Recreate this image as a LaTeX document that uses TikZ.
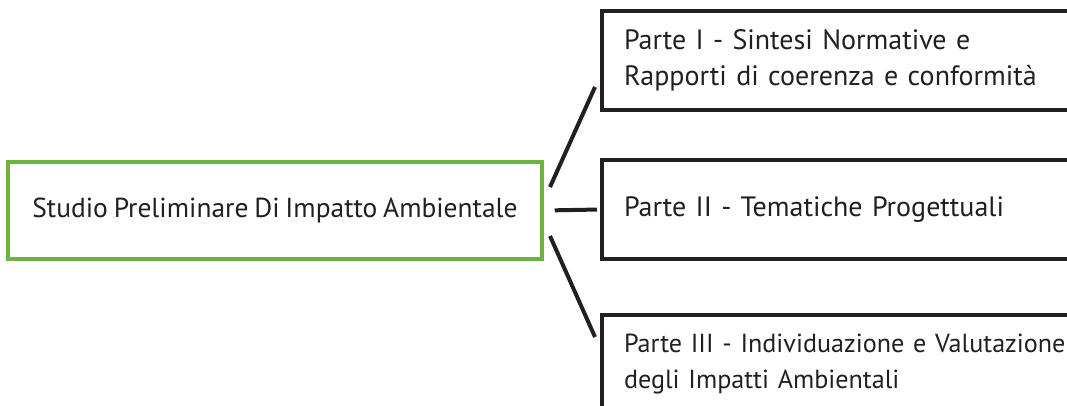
\documentclass[tikz,border=0pt]{standalone}
\usepackage{fontspec}
\setmainfont{PT Sans}[WordSpace=0.8]
\usetikzlibrary{calc,positioning}
\usepackage{xcolor}
\definecolor{boxgreen}{HTML}{6DB33F}
\definecolor{ink}{HTML}{231F20}

\tikzset{
    mainbox/.style={draw=boxgreen, line width=2.6pt, minimum width=534*0.75pt, minimum height=97*0.75pt, inner sep=0pt, text=ink, font=\fontsize{20.6}{27}\selectfont},
    partbox/.style={draw=ink, line width=3pt, minimum height=99*0.75pt, text width=520*0.75pt, inner xsep=22*0.75pt, align=left, anchor=west, text=ink},
    link/.style={draw=ink, line width=3pt}
}

\begin{document}
\begin{tikzpicture}[x=0.75pt, y=-0.75pt, font=\fontsize{21}{27}\selectfont]
    \useasboundingbox (0,0) rectangle (1067,405);
    \clip (0,0) rectangle (1067,405);

    % Main study box
    \node[mainbox] (main) at (275,210.5) {Studio Preliminare Di Impatto Ambientale};

    % The three parts
    \node[partbox] (p1) at (600,60.5) {Parte I - Sintesi Normative e\\Rapporti di coerenza e conformità};
    \node[partbox] (p2) at (600,209.5) {Parte II - Tematiche Progettuali};
    \node[partbox, font=\fontsize{19.6}{27}\selectfont] (p3) at (600,364) {Parte III - Individuazione e Valutazione\\degli Impatti Ambientali};

    % Ends of the links
    \coordinate (a1) at (550,187);
    \coordinate (b1) at (595,87);
    \coordinate (a3) at (550,236);
    \coordinate (b3) at (595,337);

    \draw[link] (a1) -- (b1);
    \draw[link, shorten <=11*0.75pt, shorten >=3*0.75pt] (main.east) -- (p2.west);
    \draw[link] (a3) -- (b3);
\end{tikzpicture}
\end{document}
